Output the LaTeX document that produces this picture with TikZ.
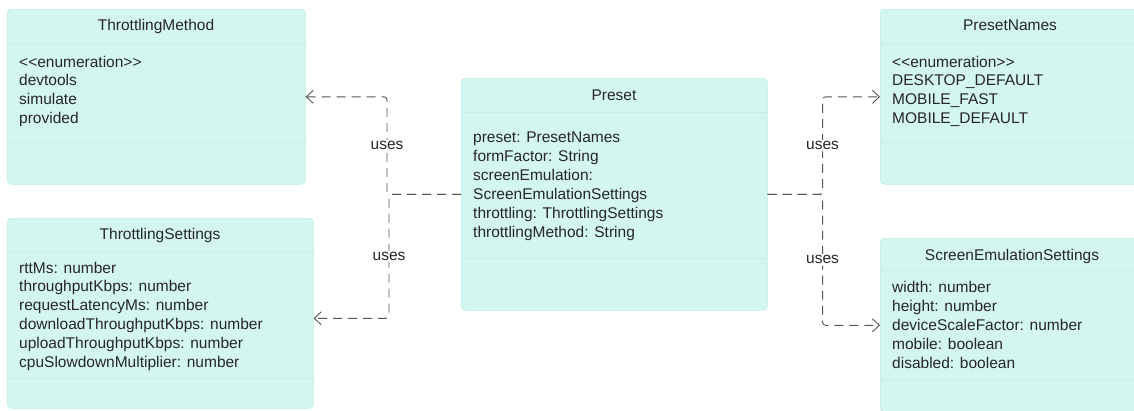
\documentclass[tikz,border=0pt]{standalone}
\usepackage{fontspec}
\newfontfamily\umlfont{Liberation Sans}
\usetikzlibrary{arrows.meta,calc}

\definecolor{classfill}{RGB}{212,246,241}
\definecolor{classline}{RGB}{190,234,228}
\definecolor{sepline}{RGB}{196,238,232}
\definecolor{depline}{RGB}{85,85,85}

\tikzset{
  classbox/.style={draw=classline, line width=0.6pt, fill=classfill,
    rounded corners=4pt, inner sep=0pt, anchor=north west},
  classtitle/.style={font=\umlfont\fontsize{15.5}{18.8}\selectfont,
    text=black!85, inner sep=0pt, anchor=base},
  classtext/.style={font=\umlfont\fontsize{15.5}{18.8}\selectfont,
    text=black!85, inner sep=0pt, anchor=base west},
  compsep/.style={draw=sepline, line width=0.8pt},
  dep/.style={draw=depline, line width=0.9pt, dash pattern=on 9pt off 6pt,
    rounded corners=3pt, -{Straight Barb[length=7pt,width=13pt]}},
  uselabel/.style={font=\umlfont\fontsize{15.5}{18.8}\selectfont,
    text=black!85, fill=white, inner sep=1.5pt}
}

% place the member lines of a class: #1 box name, #2 first baseline offset,
% #3 line pitch, #4 list of lines
\newcommand\memberlines[4]{%
  \foreach \t [count=\i from 0] in {#4}
    \node[classtext] (#1-l\i) at ($(#1.north west)+(12,#2+\i*#3)$) {\t};
}

\begin{document}
\begin{tikzpicture}[x=1pt,y=-1pt]
\useasboundingbox (0,0) rectangle (1134,410);
\clip (0,0) rectangle (1134,410);

% ThrottlingMethod
\node[classbox, minimum width=298pt, minimum height=175pt] (tm) at (7,9) {};
\node[classtitle] (tm-t) at (156,30.5) {ThrottlingMethod};
\draw[compsep] (7,43) -- (305,43);
\draw[compsep] (7,142) -- (305,142);
\memberlines{tm}{58}{18.8}{{<{}<enumeration>{}>},devtools,simulate,provided}

% ThrottlingSettings
\node[classbox, minimum width=306pt, minimum height=190pt] (ts) at (7,218) {};
\node[classtitle] (ts-t) at (160,239.5) {ThrottlingSettings};
\draw[compsep] (7,252) -- (313,252);
\draw[compsep] (7,378) -- (313,378);
\memberlines{ts}{55}{18.8}{{rttMs: number},{throughputKbps: number},{requestLatencyMs: number},{downloadThroughputKbps: number},{uploadThroughputKbps: number},{cpuSlowdownMultiplier: number}}

% Preset
\node[classbox, minimum width=306pt, minimum height=232pt] (pr) at (461,78) {};
\node[classtitle] (pr-t) at (614,100.5) {Preset};
\draw[compsep] (461,112) -- (767,112);
\draw[compsep] (461,258) -- (767,258);
\memberlines{pr}{64}{19}{{preset: PresetNames},{formFactor: String},{screenEmulation:},{ScreenEmulationSettings},{throttling: ThrottlingSettings},{throttlingMethod: String}}

% PresetNames
\node[classbox, minimum width=262pt, minimum height=175pt] (pn) at (880,9) {};
\node[classtitle] (pn-t) at (1010,30.5) {PresetNames};
\draw[compsep] (880,43) -- (1142,43);
\draw[compsep] (880,142) -- (1142,142);
\memberlines{pn}{58}{18.8}{{<{}<enumeration>{}>},{DESKTOP\_DEFAULT},{MOBILE\_FAST},{MOBILE\_DEFAULT}}

% ScreenEmulationSettings
\node[classbox, minimum width=262pt, minimum height=174pt] (se) at (880,238) {};
\node[classtitle] (se-t) at (1012,260.5) {ScreenEmulationSettings};
\draw[compsep] (880,270) -- (1142,270);
\draw[compsep] (880,380) -- (1142,380);
\memberlines{se}{54}{19}{{width: number},{height: number},{deviceScaleFactor: number},{mobile: boolean},{disabled: boolean}}

% dependencies
\draw[dep] (pr.west) -- ++(-74,0) |- node[uselabel, pos=0.25] (u1) {uses} (tm.east);
\draw[dep] (pr.west) -- ++(-72,0) |- node[uselabel, pos=0.25] (u2) {uses} ([yshift=-5pt]ts.east);
\draw[dep] (pr.east) -- ++(55,0) |- node[uselabel, pos=0.25] (u3) {uses} (pn.west);
\draw[dep] (pr.east) -- ++(55,0) |- node[uselabel, pos=0.25] (u4) {uses} (se.west);
\end{tikzpicture}
\end{document}
